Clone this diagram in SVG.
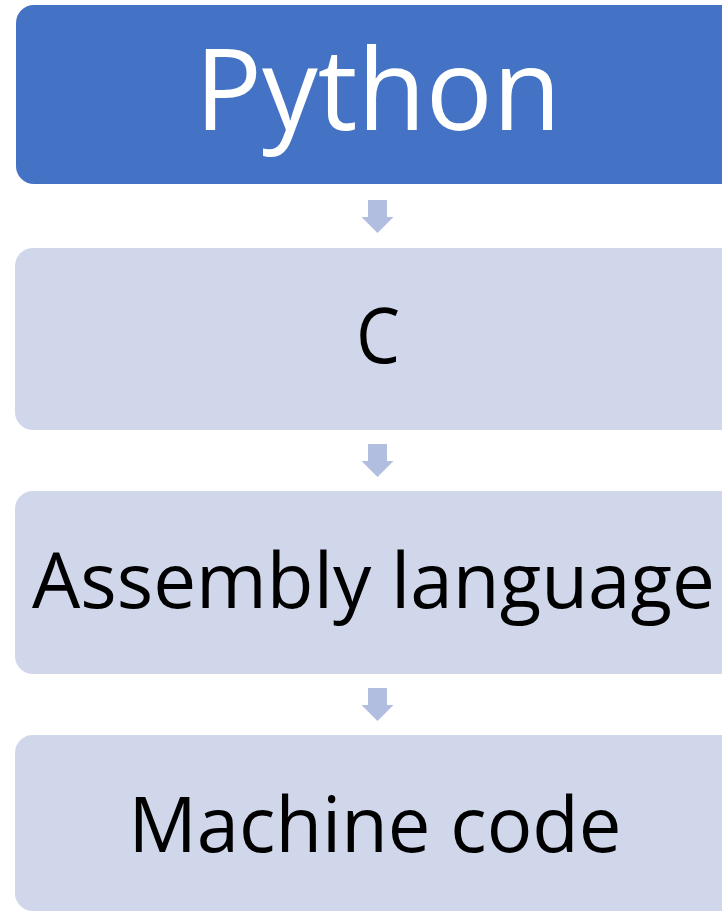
<svg xmlns="http://www.w3.org/2000/svg" width="722" height="912" viewBox="0 0 722 912">
  <style>
    .box { fill: #D0D7EB; }
    .box.top { fill: #4472C4; }
    .lbl { font-family: "Open Sans", "Liberation Sans", sans-serif; text-anchor: middle; fill: #000; }
    .lbl.top { fill: #FFFFFF; }
    .arrow { fill: #B1BEE0; }
  </style>
  <defs>
    <!-- down arrow, origin at top of shaft -->
    <path id="down" class="arrow" d="M-9.5,0 H9.5 V17 H16 L0,33 L-16,17 H-9.5 Z"/>
  </defs>

  <g id="connectors">
    <use href="#down" x="377.5" y="200"/>
    <use href="#down" x="377.5" y="444"/>
    <use href="#down" x="377.5" y="688"/>
  </g>

  <g id="python">
    <rect class="box top" x="16" y="5" width="740" height="179" rx="18"/>
    <text class="lbl top" x="378" y="130" font-size="114" textLength="366" lengthAdjust="spacingAndGlyphs">Python</text>
  </g>

  <g id="c">
    <rect class="box" x="15" y="248" width="740" height="182" rx="18"/>
    <text class="lbl" x="378" y="363" font-size="77" textLength="44" lengthAdjust="spacingAndGlyphs">C</text>
  </g>

  <g id="assembly">
    <rect class="box" x="15" y="491" width="740" height="183" rx="18"/>
    <text class="lbl" x="373.5" y="608" font-size="77" textLength="683" lengthAdjust="spacingAndGlyphs">Assembly language</text>
  </g>

  <g id="machine">
    <rect class="box" x="15" y="735" width="740" height="176" rx="18"/>
    <text class="lbl" x="375" y="852" font-size="77" textLength="493" lengthAdjust="spacingAndGlyphs">Machine code</text>
  </g>
</svg>
